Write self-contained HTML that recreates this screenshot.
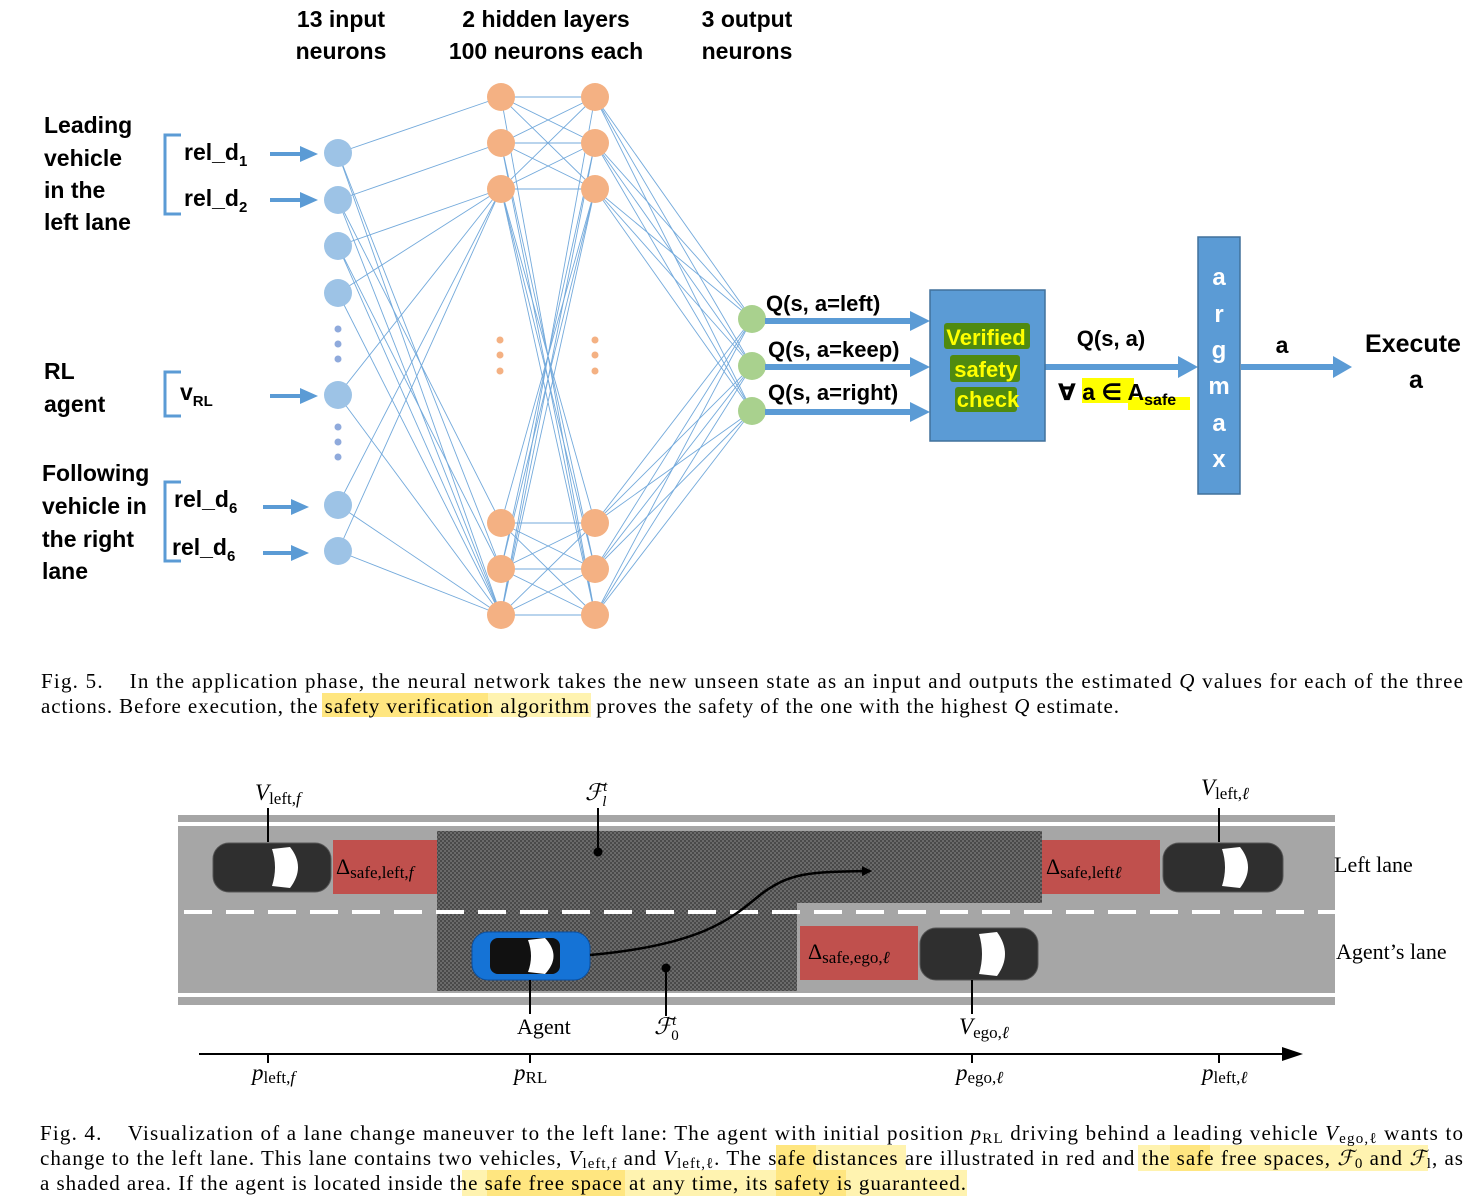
<!DOCTYPE html>
<html><head><meta charset="utf-8"><style>
html,body{margin:0;padding:0;background:#fff}
svg{display:block}
.b{font-family:"Liberation Sans","DejaVu Sans",sans-serif;font-weight:bold;fill:#000}
.t{font-family:"Liberation Serif",serif;fill:#000}
</style></head><body>
<svg width="1481" height="1204" viewBox="0 0 1481 1204" xmlns="http://www.w3.org/2000/svg">
<defs>
<pattern id="dots" width="4" height="4" patternUnits="userSpaceOnUse">
<rect width="4" height="4" fill="#6a6a6a"/><rect width="2" height="2" fill="#4a4a4a"/><rect x="2" y="2" width="2" height="2" fill="#4a4a4a"/>
</pattern>
<marker id="ah" markerWidth="10" markerHeight="10" refX="8" refY="5" orient="auto" markerUnits="userSpaceOnUse"><path d="M0,0 L10,5 L0,10z" fill="#000"/></marker>
</defs>
<text class="b" x="341" y="27" font-size="23" text-anchor="middle">13 input</text>
<text class="b" x="341" y="59" font-size="23" text-anchor="middle">neurons</text>
<text class="b" x="546" y="27" font-size="23" text-anchor="middle">2 hidden layers</text>
<text class="b" x="546" y="59" font-size="23" text-anchor="middle">100 neurons each</text>
<text class="b" x="747" y="27" font-size="23" text-anchor="middle">3 output</text>
<text class="b" x="747" y="59" font-size="23" text-anchor="middle">neurons</text>
<g class="b" font-size="23">
<text x="44" y="133">Leading</text><text x="44" y="166">vehicle</text><text x="44" y="198">in the</text><text x="44" y="230">left lane</text>
<text x="44" y="379">RL</text><text x="44" y="412">agent</text>
<text x="42" y="481">Following</text><text x="42" y="514">vehicle in</text><text x="42" y="547">the right</text><text x="42" y="579">lane</text>
<text x="184" y="160">rel_d<tspan font-size="15" dy="6">1</tspan></text>
<text x="184" y="206">rel_d<tspan font-size="15" dy="6">2</tspan></text>
<text x="180" y="400">v<tspan font-size="15" dy="6">RL</tspan></text>
<text x="174" y="507">rel_d<tspan font-size="15" dy="6">6</tspan></text>
<text x="172" y="555">rel_d<tspan font-size="15" dy="6">6</tspan></text>
</g>
<g stroke="#5b9bd5" stroke-width="3" fill="none">
<path d="M181,135 H165 V214 H181"/><path d="M181,372 H165 V416 H181"/><path d="M181,482 H165 V561 H181"/>
</g>
<g fill="#5b9bd5">
<rect x="270" y="152" width="32" height="4"/><path d="M300,146 L318,154 L300,162z"/>
<rect x="270" y="198" width="32" height="4"/><path d="M300,192 L318,200 L300,208z"/>
<rect x="270" y="394" width="32" height="4"/><path d="M300,388 L318,396 L300,404z"/>
<rect x="263" y="505" width="30" height="4"/><path d="M291,499 L309,507 L291,515z"/>
<rect x="263" y="551" width="30" height="4"/><path d="M291,545 L309,553 L291,561z"/>
</g>
<g id="lines" stroke="#5b9bd5" stroke-width="0.9" opacity="0.85"></g>
<g id="nodes"></g>
<g fill="#5b9bd5">
<rect x="765" y="318" width="148" height="6"/><path d="M910,311 L930,321 L910,331z"/>
<rect x="765" y="364" width="148" height="6"/><path d="M910,357 L930,367 L910,377z"/>
<rect x="765" y="409" width="148" height="6"/><path d="M910,402 L930,412 L910,422z"/>
<rect x="1045" y="364" width="135" height="6"/><path d="M1178,356 L1198,367 L1178,378z"/>
<rect x="1241" y="364" width="95" height="6"/><path d="M1333,356 L1352,367 L1333,378z"/>
</g>
<g class="b" font-size="22">
<text x="766" y="311">Q(s, a=left)</text>
<text x="768" y="357">Q(s, a=keep)</text>
<text x="768" y="400">Q(s, a=right)</text>
</g>
<rect x="930" y="290" width="115" height="151" fill="#5b9bd5" stroke="#41719c" stroke-width="1.5"/>
<rect x="944" y="323" width="86" height="26" fill="#4f8a10" rx="3"/>
<rect x="950" y="355" width="70" height="27" fill="#4f8a10" rx="3"/>
<rect x="955" y="387" width="62" height="25" fill="#4f8a10" rx="3"/>
<g class="b" font-size="22" text-anchor="middle" style="fill:#ffff00">
<text x="986" y="345">Verified</text><text x="986" y="377">safety</text><text x="988" y="407">check</text>
</g>
<rect x="1198" y="237" width="42" height="257" fill="#5b9bd5" stroke="#41719c" stroke-width="1.5"/>
<g class="b" font-size="24" text-anchor="middle" style="fill:#fff">
<text x="1219" y="285">a</text><text x="1219" y="322">r</text><text x="1219" y="358">g</text><text x="1219" y="394">m</text><text x="1219" y="431">a</text><text x="1219" y="467">x</text>
</g>
<text class="b" x="1111" y="346" font-size="22" text-anchor="middle">Q(s, a)</text>
<path d="M1082,378 H1134 V397 H1190 V410 H1128 V403 H1082z" fill="#ffff00"/>
<text class="b" x="1058" y="400" font-size="23">∀ a ∈ A<tspan font-size="16" dy="5">safe</tspan></text>
<text class="b" x="1282" y="353" font-size="23" text-anchor="middle">a</text>
<text class="b" x="1413" y="352" font-size="25" text-anchor="middle">Execute</text>
<text class="b" x="1416" y="388" font-size="25" text-anchor="middle">a</text>

<rect x="322" y="693" width="166" height="24" fill="#ffe680"/>
<rect x="488" y="693" width="103" height="24" fill="#fff3b0"/>
<text class="t" x="41" y="688" font-size="21" textLength="1422" lengthAdjust="spacing" xml:space="preserve">Fig. 5.    In the application phase, the neural network takes the new unseen state as an input and outputs the estimated <tspan font-style="italic">Q</tspan> values for each of the three</text>
<text class="t" x="41" y="713" font-size="21" textLength="1078" lengthAdjust="spacing">actions. Before execution, the safety verification algorithm proves the safety of the one with the highest <tspan font-style="italic">Q</tspan> estimate.</text>

<rect x="178" y="815" width="1157" height="190" fill="#a6a6a6"/>
<rect x="178" y="822" width="1157" height="4" fill="#fff"/>
<rect x="178" y="993" width="1157" height="4" fill="#fff"/>
<rect x="437" y="831" width="605" height="72" fill="url(#dots)"/>
<rect x="437" y="903" width="360" height="88" fill="url(#dots)"/>
<line x1="184" y1="912" x2="1335" y2="912" stroke="#fff" stroke-width="4" stroke-dasharray="28,14"/>
<rect x="333" y="840" width="104" height="54" fill="#c0504d"/>
<rect x="1042" y="840" width="118" height="54" fill="#c0504d"/>
<rect x="800" y="926" width="118" height="54" fill="#c0504d"/>
<g class="t" font-size="22">
<text x="336" y="874">Δ<tspan font-size="17" dy="4">safe,left,</tspan><tspan font-size="17" font-style="italic">f</tspan></text>
<text x="1046" y="874">Δ<tspan font-size="17" dy="4">safe,left</tspan><tspan font-size="17" font-style="italic">ℓ</tspan></text>
<text x="808" y="959">Δ<tspan font-size="17" dy="4">safe,ego,</tspan><tspan font-size="17" font-style="italic">ℓ</tspan></text>
</g>
<g>
<rect x="213" y="843" width="118" height="49" rx="16" fill="#2f2f2f" stroke="#555"/>
<path d="M290,847 Q306,867 290,888 L272,886 Q278,867 272,849z" fill="#fff"/>
<rect x="1163" y="843" width="120" height="49" rx="16" fill="#2f2f2f" stroke="#555"/>
<path d="M1240,847 Q1256,867 1240,888 L1222,886 Q1228,867 1222,849z" fill="#fff"/>
<rect x="920" y="928" width="118" height="52" rx="16" fill="#2f2f2f" stroke="#555"/>
<path d="M997,932 Q1013,954 997,976 L979,974 Q985,954 979,934z" fill="#fff"/>
<rect x="472" y="932" width="118" height="48" rx="16" fill="#1573d6" stroke="#0a4fa0"/>
<rect x="490" y="938" width="70" height="36" rx="8" fill="#111"/>
<path d="M545,938 Q562,956 545,974 L528,972 Q534,956 528,940z" fill="#fff"/>
</g>
<path d="M590,955 C700,945 730,920 760,895 C790,872 810,872 870,871" stroke="#000" stroke-width="2.5" fill="none" marker-end="url(#ah)"/>
<g stroke="#000" stroke-width="2">
<line x1="268" y1="808" x2="268" y2="842"/>
<line x1="1219" y1="808" x2="1219" y2="842"/>
<line x1="598" y1="808" x2="598" y2="852"/>
<line x1="530" y1="980" x2="530" y2="1014"/>
<line x1="666" y1="968" x2="666" y2="1016"/>
<line x1="972" y1="980" x2="972" y2="1014"/>
<line x1="199" y1="1054" x2="1290" y2="1054"/>
<line x1="268" y1="1054" x2="268" y2="1063"/><line x1="530" y1="1054" x2="530" y2="1063"/>
<line x1="972" y1="1054" x2="972" y2="1063"/><line x1="1219" y1="1054" x2="1219" y2="1063"/>
</g>
<path d="M1282,1047 L1303,1054 L1282,1061z" fill="#000"/>
<circle cx="598" cy="852" r="4.5" fill="#000"/><circle cx="666" cy="968" r="4.5" fill="#000"/>
<g class="t" font-size="23">
<text x="255" y="800"><tspan font-style="italic">V</tspan><tspan font-size="17" dy="4">left,</tspan><tspan font-size="17" font-style="italic">f</tspan></text>
<text x="1201" y="795"><tspan font-style="italic">V</tspan><tspan font-size="17" dy="4">left,</tspan><tspan font-size="17" font-style="italic">ℓ</tspan></text>
<text x="585" y="800" font-style="italic">ℱ<tspan font-size="15" dy="-9">t</tspan><tspan font-size="15" dx="-5" dy="15">l</tspan></text>
<text x="654" y="1034" font-style="italic">ℱ<tspan font-size="15" dy="-9">t</tspan><tspan font-size="15" dx="-5" dy="15" font-style="normal">0</tspan></text>
<text x="517" y="1034" font-size="22">Agent</text>
<text x="959" y="1034"><tspan font-style="italic">V</tspan><tspan font-size="17" dy="4">ego,</tspan><tspan font-size="17" font-style="italic">ℓ</tspan></text>
<text x="1334" y="872" font-size="22">Left lane</text>
<text x="1336" y="959" font-size="22">Agent’s lane</text>
<text x="252" y="1080"><tspan font-style="italic">p</tspan><tspan font-size="17" dy="3">left,</tspan><tspan font-size="17" font-style="italic">f</tspan></text>
<text x="514" y="1080"><tspan font-style="italic">p</tspan><tspan font-size="17" dy="3">RL</tspan></text>
<text x="956" y="1080"><tspan font-style="italic">p</tspan><tspan font-size="17" dy="3">ego,</tspan><tspan font-size="17" font-style="italic">ℓ</tspan></text>
<text x="1202" y="1080"><tspan font-style="italic">p</tspan><tspan font-size="17" dy="3">left,</tspan><tspan font-size="17" font-style="italic">ℓ</tspan></text>
</g>

<rect x="776" y="1145" width="130" height="26" fill="#fff3b0"/>
<rect x="1138" y="1145" width="290" height="26" fill="#fff3b0"/>
<rect x="462" y="1170" width="505" height="26" fill="#fff3b0"/>
<rect x="776" y="1145" width="40" height="26" fill="#ffe680"/>
<rect x="1170" y="1145" width="40" height="26" fill="#ffe680"/>
<rect x="487" y="1170" width="138" height="26" fill="#ffe680"/>
<rect x="776" y="1170" width="70" height="26" fill="#ffe680"/>
<text class="t" x="40" y="1140" font-size="21" textLength="1423" lengthAdjust="spacing" xml:space="preserve">Fig. 4.    Visualization of a lane change maneuver to the left lane: The agent with initial position <tspan font-style="italic">p</tspan><tspan font-size="15" dy="3">RL</tspan><tspan dy="-3"> driving behind a leading vehicle </tspan><tspan font-style="italic">V</tspan><tspan font-size="15" dy="3">ego,ℓ</tspan><tspan dy="-3"> wants to</tspan></text>
<text class="t" x="40" y="1165" font-size="21" textLength="1423" lengthAdjust="spacing">change to the left lane. This lane contains two vehicles, <tspan font-style="italic">V</tspan><tspan font-size="15" dy="3">left,f</tspan><tspan dy="-3"> and </tspan><tspan font-style="italic">V</tspan><tspan font-size="15" dy="3">left,ℓ</tspan><tspan dy="-3">. The safe distances are illustrated in red and the safe free spaces, </tspan><tspan font-style="italic">ℱ</tspan><tspan font-size="15" dy="3">0</tspan><tspan dy="-3"> and </tspan><tspan font-style="italic">ℱ</tspan><tspan font-size="15" dy="3">l</tspan><tspan dy="-3">, as</tspan></text>
<text class="t" x="40" y="1190" font-size="21" textLength="926" lengthAdjust="spacing">a shaded area. If the agent is located inside the safe free space at any time, its safety is guaranteed.</text>
</svg>
<script>
(function(){
var NS="http://www.w3.org/2000/svg";
var inp=[153,200,246,293,395,505,551], hid=[97,143,189,523,569,615], out=[319,366,411];
var L=document.getElementById("lines"), N=document.getElementById("nodes");
function ln(x1,y1,x2,y2){var l=document.createElementNS(NS,"line");l.setAttribute("x1",x1);l.setAttribute("y1",y1);l.setAttribute("x2",x2);l.setAttribute("y2",y2);L.appendChild(l);}
var conn=[[0,4,5],[1,5,3],[2,5,4],[2,5],[2,5],[2,5],[2,5]];
inp.forEach(function(y,i){conn[i].forEach(function(j){ln(338,y,501,hid[j]);});});
var hh=[[0,0],[0,1],[0,2],[1,0],[1,1],[1,2],[2,0],[2,1],[2,2],[3,3],[3,4],[3,5],[4,3],[4,4],[4,5],[5,3],[5,4],[5,5],[2,3],[2,4],[2,5],[1,4],[1,5],[0,5],[3,2],[4,2],[5,2],[5,1],[5,0],[4,1]];
hh.forEach(function(p){ln(501,hid[p[0]],595,hid[p[1]]);});
hid.forEach(function(a){out.forEach(function(b){ln(595,a,752,b);});});
function c(x,y,r,f){var e=document.createElementNS(NS,"circle");e.setAttribute("cx",x);e.setAttribute("cy",y);e.setAttribute("r",r);e.setAttribute("fill",f);N.appendChild(e);}
inp.forEach(function(y){c(338,y,14,"#9dc3e6");});
hid.forEach(function(y){c(501,y,14,"#f4b183");c(595,y,14,"#f4b183");});
out.forEach(function(y){c(752,y,14,"#a9d18e");});
[329,344,359,427,442,457].forEach(function(y){c(338,y,3.5,"#8faadc");});
[340,355,371].forEach(function(y){c(500,y,3.5,"#f4b183");c(595,y,3.5,"#f4b183");});
})();
</script>
</body></html>
